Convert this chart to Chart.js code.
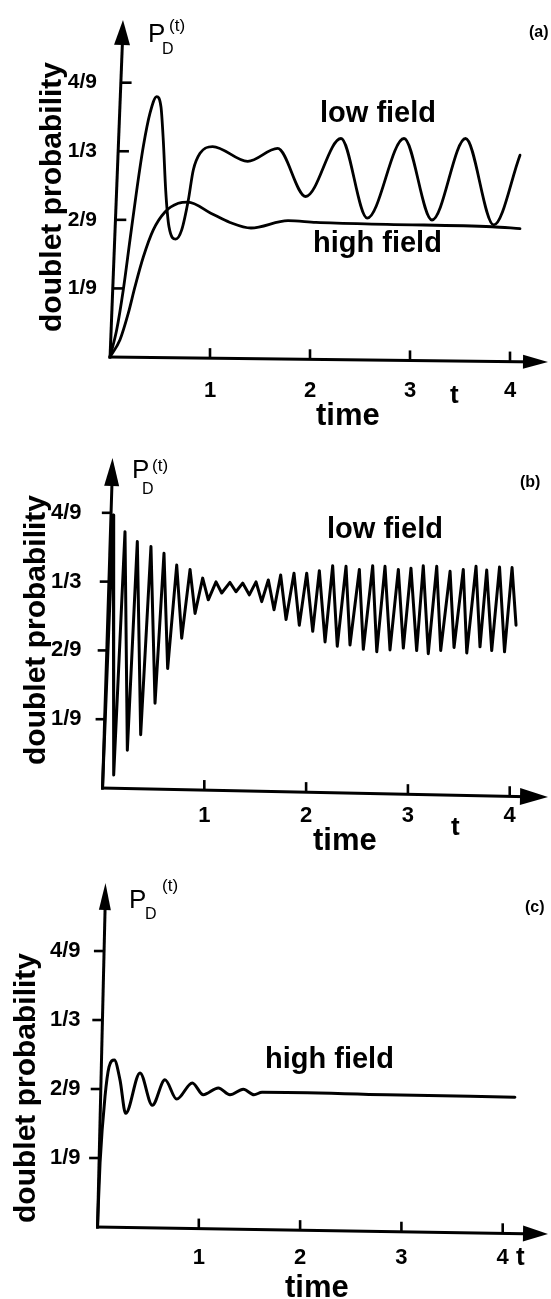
<!DOCTYPE html>
<html>
<head>
<meta charset="utf-8">
<script src="https://cdn.jsdelivr.net/npm/chart.js@4.4.1/dist/chart.umd.min.js"></script>
<style>
  html, body { margin: 0; padding: 0; background: #fff; }
  body { width: 551px; height: 1299px; position: relative; overflow: hidden; }
  canvas { position: absolute; left: 0; }
</style>
</head>
<body>
<canvas id="chartA" width="551" height="430" style="top:0px"></canvas>
<canvas id="chartB" width="551" height="430" style="top:430px"></canvas>
<canvas id="chartC" width="551" height="439" style="top:860px"></canvas>
<script>
// axis ticks (same on all three panels)
const xTickValues = [1, 2, 3, 4];
const xTickLabels = ['1', '2', '3', '4'];
const yTickValues = [1/9, 2/9, 1/3, 4/9];
const yTickLabels = ['1/9', '2/9', '1/3', '4/9'];

// (a) low field and high field
const tLowA = [0, 0.067, 0.133, 0.2, 0.267, 0.333, 0.4, 0.467, 0.51, 0.533, 0.557, 0.59, 0.657, 0.717, 0.783, 0.833, 0.9, 1.026, 1.377, 1.676, 1.957, 2.31, 2.572, 2.94, 3.22, 3.556, 3.837, 4.1];
const pLowA = [0, 0.044, 0.109, 0.19, 0.27, 0.341, 0.395, 0.422, 0.405, 0.351, 0.27, 0.211, 0.191, 0.206, 0.254, 0.303, 0.33, 0.341, 0.317, 0.338, 0.26, 0.354, 0.225, 0.354, 0.222, 0.354, 0.214, 0.327];
const tHighA = [0, 0.1, 0.183, 0.25, 0.333, 0.433, 0.55, 0.683, 0.78, 1.008, 1.2, 1.41, 1.78, 2.06, 2.77, 3.82, 4.1];
const pHighA = [0, 0.028, 0.071, 0.114, 0.162, 0.206, 0.235, 0.249, 0.251, 0.233, 0.218, 0.209, 0.221, 0.218, 0.215, 0.211, 0.208];

// (b) low field, peaks and troughs
const tLowB = [0, 0.106, 0.110, 0.221, 0.244, 0.342, 0.375, 0.476, 0.516, 0.604, 0.640, 0.729, 0.778, 0.860, 0.909, 0.984, 1.039, 1.115, 1.171, 1.252, 1.311, 1.377, 1.442, 1.508, 1.564, 1.629, 1.685, 1.750, 1.803, 1.881, 1.933, 2.006, 2.065, 2.130, 2.186, 2.261, 2.306, 2.392, 2.431, 2.523, 2.562, 2.654, 2.694, 2.775, 2.824, 2.906, 2.955, 3.030, 3.086, 3.151, 3.200, 3.283, 3.322, 3.414, 3.453, 3.544, 3.578, 3.669, 3.708, 3.774, 3.823, 3.900, 3.949, 4.023, 4.062];
const pLowB = [0, 0.441, 0.021, 0.414, 0.061, 0.398, 0.086, 0.390, 0.137, 0.379, 0.193, 0.360, 0.242, 0.353, 0.282, 0.339, 0.304, 0.333, 0.315, 0.332, 0.317, 0.331, 0.312, 0.333, 0.301, 0.336, 0.288, 0.344, 0.272, 0.347, 0.263, 0.347, 0.253, 0.351, 0.236, 0.359, 0.229, 0.358, 0.231, 0.353, 0.224, 0.359, 0.220, 0.358, 0.223, 0.353, 0.226, 0.355, 0.222, 0.359, 0.217, 0.358, 0.222, 0.350, 0.227, 0.353, 0.218, 0.358, 0.228, 0.352, 0.222, 0.357, 0.220, 0.356, 0.263];

// (c) high field
const tHighC = [0, 0.025, 0.074, 0.114, 0.166, 0.222, 0.278, 0.420, 0.541, 0.666, 0.782, 0.936, 1.044, 1.193, 1.308, 1.439, 1.545, 1.624, 2.853, 4.12];
const pHighC = [0, 0.103, 0.210, 0.258, 0.269, 0.237, 0.183, 0.248, 0.196, 0.237, 0.206, 0.232, 0.213, 0.224, 0.213, 0.222, 0.213, 0.217, 0.213, 0.209];

const FONT = '"Liberation Sans", Arial, sans-serif';
const AXIS_TITLE = 'doublet probability';

function arrow(ctx, tx, ty, dx, dy, len, half) {
  const n = Math.hypot(dx, dy), ux = dx / n, uy = dy / n;
  const bx = tx + ux * len, by = ty + uy * len;
  ctx.beginPath();
  ctx.moveTo(tx, ty);
  ctx.lineTo(bx - uy * half, by + ux * half);
  ctx.lineTo(bx + uy * half, by - ux * half);
  ctx.closePath();
  ctx.fill();
}

// draws the arrowed axes, tick marks and the free texts
function axesPlugin(cfg) {
  return {
    id: 'axes',
    afterDraw(chart) {
      const { ctx, chartArea: a, scales: { x, y } } = chart;
      const x0 = a.left, y0 = a.bottom;
      // the scanned figure is a little skewed
      const yAxisX = py => x0 + cfg.tiltY * (y0 - py) / (y0 - a.top);
      const xAxisY = px => y0 + cfg.tiltX * (px - x0) / (a.right - x0);
      ctx.save();
      ctx.strokeStyle = '#000';
      ctx.fillStyle = '#000';
      ctx.lineWidth = 3;

      const topX = yAxisX(a.top);
      ctx.beginPath(); ctx.moveTo(x0, y0 + 1.5); ctx.lineTo(topX, a.top + 8); ctx.stroke();
      arrow(ctx, topX, a.top, x0 - topX, y0 - a.top, cfg.arrowY[0], cfg.arrowY[1]);

      const endY = xAxisY(a.right);
      ctx.beginPath(); ctx.moveTo(x0 - 1.5, y0); ctx.lineTo(a.right - 8, endY); ctx.stroke();
      arrow(ctx, a.right, endY, x0 - a.right, y0 - endY, cfg.arrowX[0], cfg.arrowX[1]);

      ctx.lineWidth = 2.6;
      y.ticks.forEach(t => {
        const py = y.getPixelForValue(t.value), ax = yAxisX(py);
        ctx.beginPath(); ctx.moveTo(ax, py); ctx.lineTo(ax + cfg.yTickDir * cfg.yTickLen, py); ctx.stroke();
      });
      x.ticks.forEach(t => {
        const px = x.getPixelForValue(t.value), ay = xAxisY(px);
        ctx.beginPath(); ctx.moveTo(px, ay); ctx.lineTo(px, ay - 10); ctx.stroke();
      });

      ctx.textAlign = 'left';
      ctx.textBaseline = 'alphabetic';
      cfg.texts.forEach(tx => {
        ctx.font = (tx.bold ? 'bold ' : '') + tx.size + 'px ' + FONT;
        if (tx.rotate) {
          ctx.save();
          ctx.translate(tx.x, tx.y);
          ctx.rotate(-Math.PI / 2);
          ctx.textAlign = 'center';
          ctx.fillText(tx.text, 0, 0);
          ctx.restore();
        } else {
          ctx.fillText(tx.text, tx.x, tx.y);
        }
      });
      ctx.restore();
    }
  };
}

function makePanel(id, cfg) {
  const ctx = document.getElementById(id).getContext('2d');
  return new Chart(ctx, {
    type: 'line',
    data: {
      datasets: cfg.series.map(s => ({
        data: s.t.map((t, i) => ({ x: t, y: s.p[i] })),
        borderColor: '#000',
        borderWidth: cfg.lineWidth,
        pointRadius: 0,
        fill: false,
        clip: false,
        tension: cfg.smooth ? 0.4 : 0,
        cubicInterpolationMode: cfg.smooth ? 'monotone' : 'default',
        borderJoinStyle: 'round',
        borderCapStyle: 'round'
      }))
    },
    options: {
      responsive: false,
      animation: false,
      devicePixelRatio: 1,
      layout: { padding: { top: cfg.area.top, right: 551 - cfg.area.right, left: 0, bottom: 0 } },
      plugins: { legend: { display: false }, tooltip: { enabled: false } },
      scales: {
        x: {
          type: 'linear', min: 0, max: cfg.xMax,
          grid: { display: false }, border: { display: false },
          afterBuildTicks: s => { s.ticks = xTickValues.map(v => ({ value: v })); },
          afterFit: s => { s.height = cfg.height - cfg.area.bottom; },
          ticks: {
            padding: cfg.xPad, color: '#000', maxRotation: 0,
            font: { family: FONT, size: 22, weight: 'bold' },
            callback: (v, i) => xTickLabels[i]
          }
        },
        y: {
          type: 'linear', min: 0, max: cfg.yMax,
          grid: { display: false }, border: { display: false },
          afterBuildTicks: s => { s.ticks = yTickValues.map(v => ({ value: v })); },
          afterFit: s => { s.width = cfg.area.left; },
          ticks: {
            padding: cfg.yPad, color: '#000',
            font: { family: FONT, size: cfg.yFont, weight: 'bold' },
            callback: (v, i) => yTickLabels[i]
          }
        }
      }
    },
    plugins: [axesPlugin(cfg)]
  });
}

makePanel('chartA', {
  height: 430, area: { left: 110, right: 548, top: 20, bottom: 357 },
  xMax: 4.38, yMax: 0.546, xPad: 13, yPad: 5, yFont: 21,
  tiltY: 13, tiltX: 5, arrowY: [25, 8], arrowX: [25, 7], yTickDir: 1, yTickLen: 11,
  smooth: true, lineWidth: 2.8,
  series: [{ t: tLowA, p: pLowA }, { t: tHighA, p: pHighA }],
  texts: [
    { text: '(a)', x: 529, y: 37, size: 16, bold: true },
    { text: 'P', x: 148, y: 42, size: 26 },
    { text: 'D', x: 162, y: 54, size: 16 },
    { text: '(t)', x: 169, y: 31, size: 17 },
    { text: AXIS_TITLE, x: 61, y: 197, size: 30, bold: true, rotate: true },
    { text: 'time', x: 316, y: 425, size: 31, bold: true },
    { text: 't', x: 450, y: 403, size: 26, bold: true },
    { text: 'low field', x: 320, y: 122, size: 29, bold: true },
    { text: 'high field', x: 313, y: 252, size: 29, bold: true }
  ]
});

makePanel('chartB', {
  height: 430, area: { left: 102.5, right: 548, top: 28, bottom: 358 },
  xMax: 4.376, yMax: 0.533, xPad: 7, yPad: 13, yFont: 22,
  tiltY: 10, tiltX: 9, arrowY: [28, 7.5], arrowX: [28, 8.5], yTickDir: -1, yTickLen: 9,
  smooth: false, lineWidth: 3,
  series: [{ t: tLowB, p: pLowB }],
  texts: [
    { text: '(b)', x: 520, y: 57, size: 16, bold: true },
    { text: 'P', x: 132, y: 48, size: 26 },
    { text: 'D', x: 142, y: 64, size: 16 },
    { text: '(t)', x: 152, y: 41, size: 17 },
    { text: AXIS_TITLE, x: 45, y: 200, size: 30, bold: true, rotate: true },
    { text: 'time', x: 313, y: 420, size: 31, bold: true },
    { text: 't', x: 451, y: 405, size: 26, bold: true },
    { text: 'low field', x: 327, y: 108, size: 29, bold: true }
  ]
});

makePanel('chartC', {
  height: 439, area: { left: 97.5, right: 548, top: 23, bottom: 367 },
  xMax: 4.447, yMax: 0.554, xPad: 10, yPad: 9, yFont: 22,
  tiltY: 8, tiltX: 7, arrowY: [27, 6], arrowX: [25, 8], yTickDir: -1, yTickLen: 10,
  smooth: true, lineWidth: 3,
  series: [{ t: tHighC, p: pHighC }],
  texts: [
    { text: '(c)', x: 525, y: 52, size: 16, bold: true },
    { text: 'P', x: 129, y: 48, size: 26 },
    { text: 'D', x: 145, y: 59, size: 16 },
    { text: '(t)', x: 162, y: 31, size: 17 },
    { text: AXIS_TITLE, x: 35, y: 228, size: 30, bold: true, rotate: true },
    { text: 'time', x: 285, y: 437, size: 31, bold: true },
    { text: 't', x: 516, y: 405, size: 26, bold: true },
    { text: 'high field', x: 265, y: 208, size: 29, bold: true }
  ]
});
</script>
</body>
</html>
